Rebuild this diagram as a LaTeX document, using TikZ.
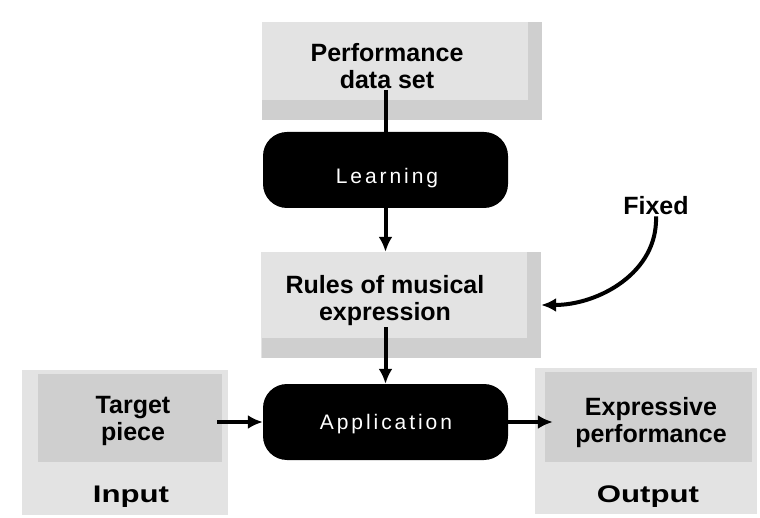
\documentclass[tikz,border=0pt]{standalone}
\usepackage{fontspec}
\setmainfont{Liberation Sans}
\usetikzlibrary{arrows.meta}
\begin{document}
\begin{tikzpicture}[x=1pt,y=-1pt,
  screen/.style={draw=none,fill=black!11,rectangle,inner sep=0pt},
  dense/.style={draw=none,fill=black!19},
  blackbox/.style={draw=none,fill=black,rounded corners=24pt,inner sep=0pt,
    minimum width=245pt,minimum height=76pt},
  lbl/.style={font=\fontsize{25}{30}\selectfont\bfseries,align=center,inner sep=1pt},
  io/.style={font=\fontsize{24}{28}\selectfont\bfseries,inner sep=1pt},
  inv/.style={font=\fontsize{21}{26}\selectfont\addfontfeature{LetterSpace=14},text=white},
  arr/.style={line width=4pt,-{Latex[length=15pt,width=14pt]}},
  ln/.style={line width=4pt}]
\useasboundingbox (0,0) rectangle (760,518);
\fill[white] (0,0) rectangle (760,518);

% screened panels, with their denser bands
\node[screen,minimum width=280pt,minimum height=98pt] (data) at (402,71) {};
\fill[dense] (262,100) rectangle (542,120);
\fill[dense] (528,22) rectangle (542,120);
\node[screen,minimum width=280pt,minimum height=106pt] (rules) at (401,305) {};
\fill[dense] (262,338) rectangle (541,358);
\fill[dense] (527,252) rectangle (541,358);
\node[screen,minimum width=206pt,minimum height=145pt] (input) at (125,442) {};
\fill[dense] (38,374) rectangle (222,462);
\node[screen,minimum width=222pt,minimum height=146pt] (output) at (646,441) {};
\fill[dense] (545,372) rectangle (752,462);

% labels on the panels
\node[lbl] (datatxt) at (387,66) {Performance\\[-3pt]data set};
\node[lbl] (rulestxt) at (385,301) {Rules of musical\\[-3pt]expression};
\node[lbl] (inputtxt) at (133,421) {Target\\[-3pt]piece};
\node[io] (inlab) at (131,497) {\scalebox{1.3}[1]{Input}};
\node[lbl] (outputtxt) at (651,423) {Expressive\\[-3pt]performance};
\node[io] (outlab) at (648,497) {\scalebox{1.3}[1]{Output}};
\node[lbl] (fixed) at (656,206) {Fixed};

% processing stages
\node[blackbox] (learn) at (385.5,170) {};
\node[inv] at (387,178) {Learning};
\node[blackbox] (appl) at (385.5,422) {};
\node[inv] at (386,424) {Application};

% connectors
\draw[ln] (datatxt.south -| learn.north) -- (learn.north);
\draw[arr] (learn.south) -- (learn.south |- rules.north);
\draw[arr] (rulestxt.south -| appl.north) -- (appl.north);
\draw[arr] ([xshift=-11pt]input.east |- appl.west) -- (appl.west);
\draw[arr] (appl.east) -- ([xshift=18pt]output.west |- appl.east);
\draw[arr] (fixed.south) to[out=-88,in=0] (rules.east);
\end{tikzpicture}
\end{document}
